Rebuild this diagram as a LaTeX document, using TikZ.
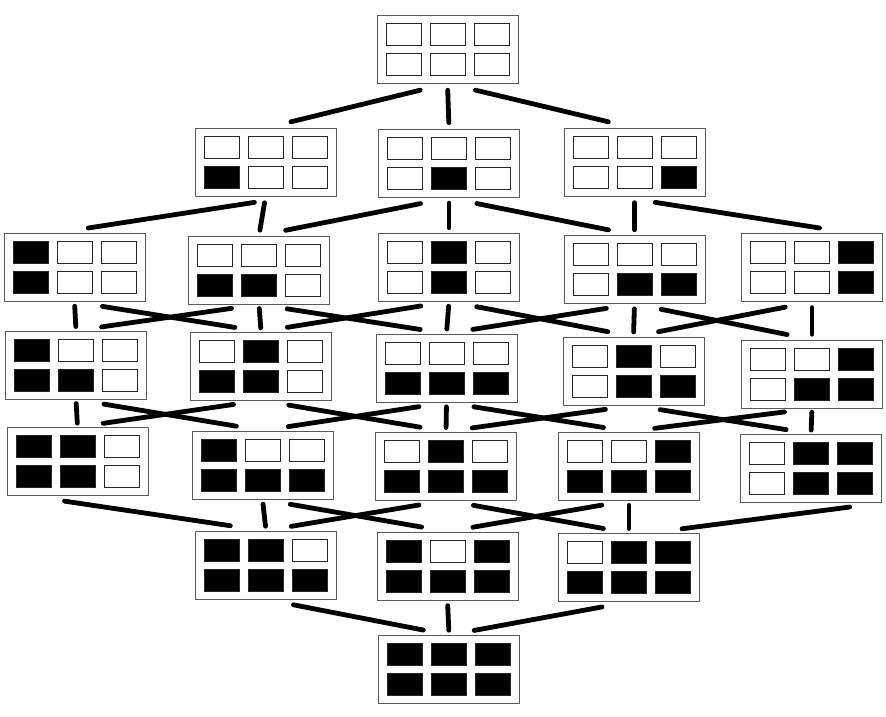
\documentclass[tikz,border=0pt]{standalone}
\usetikzlibrary{calc}

\colorlet{k}{black}
\colorlet{w}{white}

% one board: name, centre, six fills (top row, then bottom row)
\newcommand{\drawboard}[3]{%
  \node[board] (#1) at (#2) {};
  \foreach \f [count=\i from 0] in {#3} {
    \pgfmathtruncatemacro{\col}{mod(\i,3)}
    \pgfmathtruncatemacro{\row}{div(\i,3)}
    \node[cell, fill=\f] at ($(#1)+(\col*44-44,\row*30-15)$) {};
  }%
}

\begin{document}
\begin{tikzpicture}[
    x=1pt, y=-1pt,
    board/.style={draw=black!65, line width=0.9pt, minimum width=141pt, minimum height=68pt, inner sep=0pt},
    cell/.style={draw=black!85, line width=0.8pt, minimum width=35pt, minimum height=22pt, inner sep=0pt},
    link/.style={line width=4.8pt, line cap=round,
        to path={($(\tikztostart)!0.15!(\tikztotarget)$) -- ($(\tikztostart)!0.86!(\tikztotarget)$)}}
]
    \useasboundingbox (0,0) rectangle (886,716);

    % Row 0
    \drawboard{r0}{447.5,49}{w,w,w,w,w,w}

    % Row 1
    \drawboard{r1a}{265.5,162.5}{w,w,w,k,w,w}
    \drawboard{r1b}{449,163.5}{w,w,w,w,k,w}
    \drawboard{r1c}{634.5,162.5}{w,w,w,w,w,k}

    % Row 2
    \drawboard{r2a}{74.5,267.5}{k,w,w,k,w,w}
    \drawboard{r2b}{259,270}{w,w,w,k,k,w}
    \drawboard{r2c}{449,267}{w,k,w,w,k,w}
    \drawboard{r2d}{634.5,269.5}{w,w,w,w,k,k}
    \drawboard{r2e}{812,267.5}{w,w,k,w,w,k}

    % Row 3
    \drawboard{r3a}{76,365}{k,w,w,k,k,w}
    \drawboard{r3b}{261,366}{w,k,w,k,k,w}
    \drawboard{r3c}{446.5,368}{w,w,w,k,k,k}
    \drawboard{r3d}{633.5,371}{w,k,w,w,k,k}
    \drawboard{r3e}{812,374}{w,w,k,w,k,k}

    % Row 4
    \drawboard{r4a}{77.5,461.5}{k,k,w,k,k,w}
    \drawboard{r4b}{262.5,465}{k,w,w,k,k,k}
    \drawboard{r4c}{446,466}{w,k,w,k,k,k}
    \drawboard{r4d}{629,466}{w,w,k,k,k,k}
    \drawboard{r4e}{811,468}{w,k,k,w,k,k}

    % Row 5
    \drawboard{r5a}{266,565}{k,k,w,k,k,k}
    \drawboard{r5b}{447.5,566}{k,w,k,k,k,k}
    \drawboard{r5c}{629,567.5}{w,k,k,k,k,k}

    % Row 6
    \drawboard{r6}{449,669.5}{k,k,k,k,k,k}

    % Row 0 to row 1
    \draw[link] (r0.south) to (r1a.north);
    \draw[link] (r0.south) to (r1b.north);
    \draw[link] (r0.south) to (r1c.north);

    % Row 1 to row 2
    \draw[link] ([xshift=24pt]r1a.south) to ([xshift=-19pt]r2a.north);
    \draw[link] (r1a.south) to (r2b.north);
    \draw[link] (r1b.south) to (r2b.north);
    \draw[link] (r1b.south) to (r2c.north);
    \draw[link] (r1b.south) to (r2d.north);
    \draw[link] (r1c.south) to (r2d.north);
    \draw[link] ([xshift=-14pt]r1c.south) to ([xshift=40pt]r2e.north);

    % Row 2 to row 3
    \draw[link] (r2a.south) to (r3a.north);
    \draw[link] (r2a.south) to (r3b.north);
    \draw[link] (r2b.south) to (r3a.north);
    \draw[link] (r2b.south) to (r3b.north);
    \draw[link] (r2b.south) to (r3c.north);
    \draw[link] (r2c.south) to (r3b.north);
    \draw[link] (r2c.south) to (r3c.north);
    \draw[link] (r2c.south) to (r3d.north);
    \draw[link] (r2d.south) to (r3c.north);
    \draw[link] (r2d.south) to (r3d.north);
    \draw[link] (r2d.south) to (r3e.north);
    \draw[link] (r2e.south) to (r3d.north);
    \draw[link] (r2e.south) to (r3e.north);

    % Row 3 to row 4
    \draw[link] (r3a.south) to (r4a.north);
    \draw[link] (r3a.south) to (r4b.north);
    \draw[link] (r3b.south) to (r4a.north);
    \draw[link] (r3b.south) to (r4c.north);
    \draw[link] (r3c.south) to (r4b.north);
    \draw[link] (r3c.south) to (r4c.north);
    \draw[link] (r3c.south) to (r4d.north);
    \draw[link] (r3d.south) to (r4c.north);
    \draw[link] (r3d.south) to (r4e.north);
    \draw[link] (r3e.south) to (r4d.north);
    \draw[link] (r3e.south) to (r4e.north);

    % Row 4 to row 5
    \draw[link] ([xshift=-48pt]r4a.south) to ([xshift=-3pt]r5a.north);
    \draw[link] (r4b.south) to (r5a.north);
    \draw[link] (r4b.south) to (r5b.north);
    \draw[link] (r4c.south) to (r5a.north);
    \draw[link] (r4c.south) to (r5c.north);
    \draw[link] (r4d.south) to (r5b.north);
    \draw[link] (r4d.south) to (r5c.north);
    \draw[link] ([xshift=74pt]r4e.south) to ([xshift=20pt]r5c.north);

    % Row 5 to row 6
    \draw[link] (r5a.south) to (r6.north);
    \draw[link] (r5b.south) to (r6.north);
    \draw[link] (r5c.south) to (r6.north);
\end{tikzpicture}
\end{document}
